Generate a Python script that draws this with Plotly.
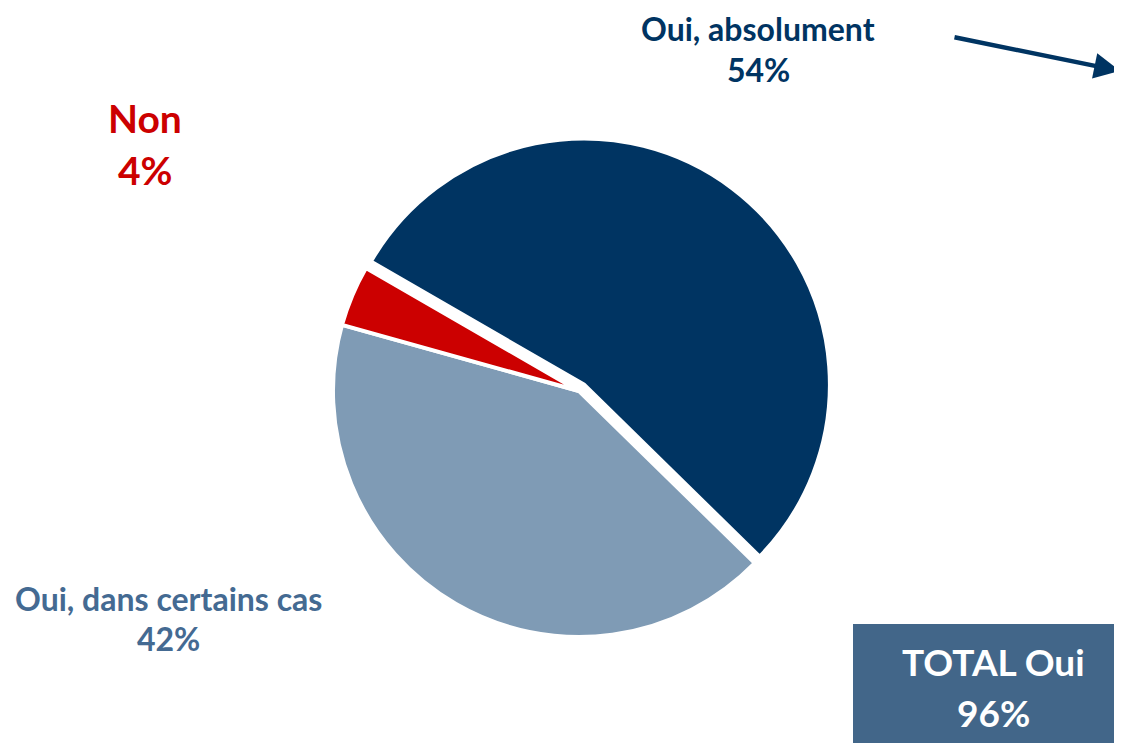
import plotly.graph_objects as go

labels = ["Oui, absolument", "Oui, dans certains cas", "Non"]
values = [54, 42, 4]
colors = ["#003462", "#7F9BB5", "#CC0000"]
pulls = [0.033, 0, 0]
label_colors = ["#003462", "#446A92", "#CC0000"]
total_label = "TOTAL Oui"
total_value = 96

FONT = "Lato"
W, H, OFF = 1122, 743, 8  # page body margin offset


def px(x):
    return (x - OFF) / W


def py(y):
    return 1 - (y - OFF) / H


fig = go.Figure()
fig.add_trace(go.Pie(
    labels=labels, values=values, sort=False, direction="clockwise",
    rotation=300, pull=pulls, textinfo="none", hoverinfo="label+percent",
    marker=dict(colors=colors, line=dict(color="white", width=4)),
    domain=dict(x=[0.2824, 0.7354], y=[0.1425, 0.8266]),
    showlegend=False,
))


def lab(text, x, y, size, color):
    fig.add_annotation(text=text, x=px(x), y=py(y), xref="paper", yref="paper",
                       xanchor="center", yanchor="middle", showarrow=False,
                       font=dict(family=FONT, size=size, color=color))


lab(f"<b>{labels[0]}</b>", 758, 28, 32, label_colors[0])
lab(f"<b>{values[0]}%</b>", 758, 70, 32, label_colors[0])
lab(f"<b>{labels[2]}</b>", 145, 118, 39, label_colors[2])
lab(f"<b>{values[2]}%</b>", 145, 170, 39, label_colors[2])
lab(f"<b>{labels[1]}</b>", 168, 598, 32, label_colors[1])
lab(f"<b>{values[1]}%</b>", 168, 638, 32, label_colors[1])

fig.add_shape(type="rect", xref="paper", yref="paper",
              x0=px(853), x1=1.0, y0=0, y1=py(624),
              fillcolor="#426689", line=dict(width=0), layer="below")
lab(f"<b>{total_label}</b>", 993, 661, 37, "white")
lab(f"<b>{total_value}%</b>", 993, 712, 37, "white")

fig.add_annotation(x=px(1120), y=py(71), ax=-167, ay=-34,
                   xref="paper", yref="paper", axref="pixel", ayref="pixel",
                   showarrow=True, arrowhead=2, arrowsize=1.15, arrowwidth=4.5,
                   arrowcolor="#003462", text="")

fig.update_layout(width=W, height=H, margin=dict(l=0, r=0, t=0, b=0),
                  paper_bgcolor="white", plot_bgcolor="white")
fig.write_html("out.html")
